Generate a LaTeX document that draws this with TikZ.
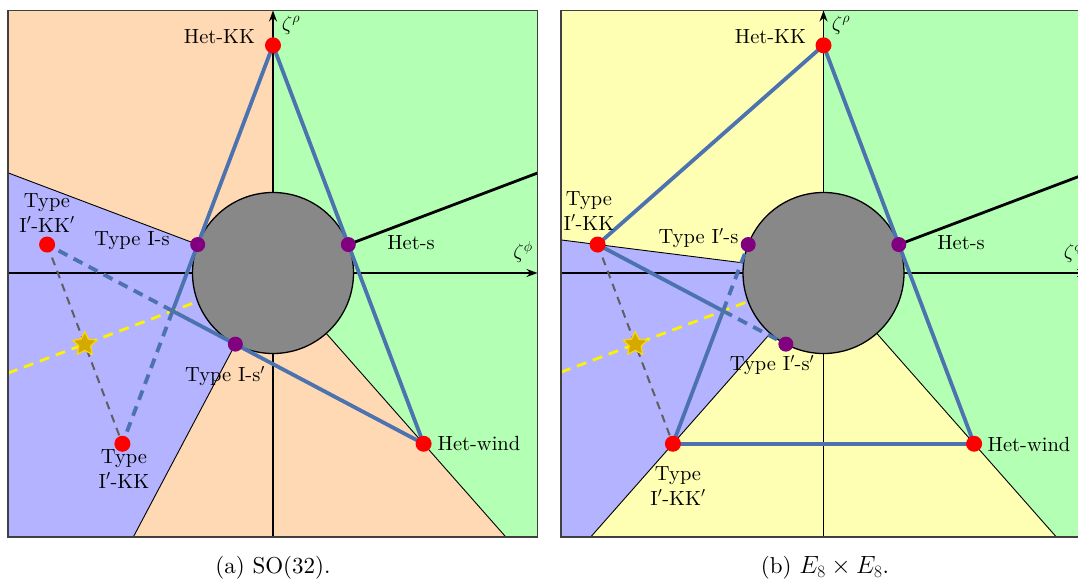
\documentclass[tikz,border=0pt]{standalone}
\usepackage{fontspec}
\setmainfont{lmroman10-regular}[Extension=.otf, BoldFont=lmroman10-bold, ItalicFont=lmroman10-italic, BoldItalicFont=lmroman10-bolditalic]
\usetikzlibrary{arrows.meta,shapes.geometric}
\definecolor{peach}{RGB}{255,217,179}
\definecolor{mint}{RGB}{179,255,179}
\definecolor{lav}{RGB}{179,179,255}
\definecolor{lemon}{RGB}{255,255,179}
\definecolor{hullblue}{RGB}{76,114,176}
\definecolor{ballgray}{RGB}{136,136,136}
\definecolor{dotpurple}{RGB}{128,0,128}
\definecolor{stargold}{RGB}{212,170,0}
\definecolor{staredge}{RGB}{255,215,0}
\definecolor{guidegray}{RGB}{95,95,95}
\tikzset{
  bnd/.style={black, line width=0.9pt},
  axisline/.style={black, line width=1.6pt, -{Stealth[length=11pt,width=8pt]}},
  hsray/.style={black, line width=2.8pt},
  hull/.style={hullblue, line width=3.8pt},
  hulld/.style={hull, dash pattern=on 10pt off 7pt},
  guide/.style={guidegray, line width=2pt, dash pattern=on 8pt off 6pt},
  ydash/.style={yellow, line width=2.8pt, dash pattern=on 10pt off 7pt},
  ball/.style={fill=ballgray, draw=black, line width=1.3pt},
  rdot/.style={circle, fill=red, inner sep=0pt, minimum size=16pt},
  pdot/.style={circle, fill=dotpurple, inner sep=0pt, minimum size=15pt},
  starmark/.style={star, star points=5, star point ratio=2.0, fill=stargold, draw=staredge, line width=1.2pt, inner sep=0pt, minimum size=25pt},
  lab/.style={font=\fontsize{20.5}{24.5}\selectfont, inner sep=0pt, align=center},
  captext/.style={font=\fontsize{23}{27}\selectfont, inner sep=0pt},
  panelframe/.style={draw=black!75, line width=1.2pt},
}
\begin{document}
\begin{tikzpicture}[x=1pt,y=-1pt]
\useasboundingbox (0,0) rectangle (1078,580);
\clip (0,0) rectangle (1078,580);

% ---------------- panel (a) ----------------
\begin{scope}[shift={(273,273)},x=80.5pt,y=80.5pt]
  \def\L{-3.292}\def\R{3.286}\def\T{3.261}\def\B{-3.28}
  \coordinate (a-O) at (0,0);
  \coordinate (a-hkk) at (0,2.82843);
  \coordinate (a-hs) at (0.93541,0.35355);
  \coordinate (a-hw) at (1.87083,-2.12132);
  \coordinate (a-is) at (-0.93541,0.35355);
  \coordinate (a-isp) at (-0.46771,-0.88388);
  \coordinate (a-pa) at (-2.80624,0.35355);
  \coordinate (a-pb) at (-1.87083,-2.12132);
  \coordinate (a-S) at (-2.33854,-0.88388);
  \coordinate (a-X) at (intersection of a-hkk--a-pb and a-hw--a-pa);
  \coordinate (a-yl) at (\L,-1.2443);
  \coordinate (a-yr) at (-0.8419,-0.3182);
  \coordinate (a-xl) at (\L,0);
  \coordinate (a-xr) at (\R,0);
  \coordinate (a-yb) at (0,\B);
  \coordinate (a-yt) at (0,\T);
  \coordinate (a-b1) at (\L,1.2442);
  \coordinate (a-b2) at (-1.7356,\B);
  \coordinate (a-b3) at (2.8927,\B);
  \coordinate (a-hse) at (\R,1.2420);
  \fill[peach] (\L,\B) rectangle (\R,\T);
  \fill[mint] (a-yt) -- (\R,\T) -- (\R,\B) -- (a-b3) -- (a-O) -- cycle;
  \fill[lav] (a-b1) -- (a-O) -- (a-b2) -- (\L,\B) -- cycle;
  \draw[bnd] (a-b1) -- (a-O) -- (a-b2);
  \draw[bnd] (a-O) -- (a-b3);
  \draw[axisline] (a-yb) -- (a-yt);
  \draw[axisline] (a-xl) -- (a-xr);
  \draw[hsray] (a-hs) -- (a-hse);
  \draw[guide] (a-pa) -- (a-pb);
  \draw[ydash] (a-yl) -- (a-yr);
  \draw[ball] (a-O) circle (1);
  \draw[hull] (a-hkk) -- (a-X);
  \draw[hull] (a-hkk) -- (a-hw);
  \draw[hull] (a-hw) -- (a-X);
  \draw[hulld] (a-X) -- (a-pb);
  \draw[hulld] (a-X) -- (a-pa);
  \node[starmark] (a-star) at (a-S) {};
  \node[rdot] (a-nhkk) at (a-hkk) {};
  \node[rdot] (a-nhw) at (a-hw) {};
  \node[rdot] (a-npa) at (a-pa) {};
  \node[rdot] (a-npb) at (a-pb) {};
  \node[pdot] (a-nhs) at (a-hs) {};
  \node[pdot] (a-nis) at (a-is) {};
  \node[pdot] (a-nisp) at (a-isp) {};
  \draw[panelframe] (\L,\B) rectangle (\R,\T);
\end{scope}

% ---------------- panel (b) ----------------
\begin{scope}[shift={(823.5,273)},x=80.5pt,y=80.5pt]
  \def\L{-3.261}\def\R{3.286}\def\T{3.261}\def\B{-3.28}
  \coordinate (b-O) at (0,0);
  \coordinate (b-hkk) at (0,2.82843);
  \coordinate (b-hs) at (0.93541,0.35355);
  \coordinate (b-hw) at (1.87083,-2.12132);
  \coordinate (b-is) at (-0.93541,0.35355);
  \coordinate (b-isp) at (-0.46771,-0.88388);
  \coordinate (b-pa) at (-2.80624,0.35355);
  \coordinate (b-pb) at (-1.87083,-2.12132);
  \coordinate (b-S) at (-2.33854,-0.88388);
  \coordinate (b-X) at (intersection of b-hkk--b-pb and b-hw--b-pa);
  \coordinate (b-yl) at (\L,-1.2326);
  \coordinate (b-yr) at (-0.8419,-0.3182);
  \coordinate (b-xl) at (\L,0);
  \coordinate (b-xr) at (\R,0);
  \coordinate (b-yb) at (0,\B);
  \coordinate (b-yt) at (0,\T);
  \coordinate (b-b1) at (\L,0.4108);
  \coordinate (b-b2) at (-2.8927,\B);
  \coordinate (b-b3) at (2.8927,\B);
  \coordinate (b-hse) at (\R,1.2420);
  \fill[lemon] (\L,\B) rectangle (\R,\T);
  \fill[mint] (b-yt) -- (\R,\T) -- (\R,\B) -- (b-b3) -- (b-O) -- cycle;
  \fill[lav] (b-b1) -- (b-O) -- (b-b2) -- (\L,\B) -- cycle;
  \draw[bnd] (b-b1) -- (b-O) -- (b-b2);
  \draw[bnd] (b-O) -- (b-b3);
  \draw[axisline] (b-yb) -- (b-yt);
  \draw[axisline] (b-xl) -- (b-xr);
  \draw[hsray] (b-hs) -- (b-hse);
  \draw[guide] (b-pa) -- (b-pb);
  \draw[ydash] (b-yl) -- (b-yr);
  \draw[ball] (b-O) circle (1);
  \draw[hull] (b-hkk) -- (b-pa);
  \draw[hull] (b-hkk) -- (b-hw);
  \draw[hull] (b-hw) -- (b-pb);
  \draw[hull] (b-pb) -- (b-X);
  \draw[hull] (b-pa) -- (b-X);
  \draw[hulld] (b-X) -- (b-is);
  \draw[hulld] (b-X) -- (b-isp);
  \node[starmark] (b-star) at (b-S) {};
  \node[rdot] (b-nhkk) at (b-hkk) {};
  \node[rdot] (b-nhw) at (b-hw) {};
  \node[rdot] (b-npa) at (b-pa) {};
  \node[rdot] (b-npb) at (b-pb) {};
  \node[pdot] (b-nhs) at (b-hs) {};
  \node[pdot] (b-nis) at (b-is) {};
  \node[pdot] (b-nisp) at (b-isp) {};
  \draw[panelframe] (\L,\B) rectangle (\R,\T);
\end{scope}

% ---------------- labels (a) ----------------
\node[lab] (a-lhkk) at (219.5,37) {Het-KK};
\node[lab] (a-lhs) at (411,243) {Het-s};
\node[lab] (a-lis) at (132,241) {Type I-s};
\node[lab] (a-lpa) at (47,213) {Type\\I$'$-KK$'$};
\node[lab] (a-lisp) at (225,376) {Type I-s$'$};
\node[lab] (a-lhw) at (479,443) {Het-wind};
\node[lab] (a-lpb) at (124,469) {Type\\I$'$-KK};
\node[lab] (a-zr) at (291,25) {$\zeta^\rho$};
\node[lab] (a-zp) at (523,252) {$\zeta^\phi$};
\node[captext] (a-cap) at (273,568) {(a) SO(32).};

% ---------------- labels (b) ----------------
\node[lab] (b-lhkk) at (770.5,37) {Het-KK};
\node[lab] (b-lhs) at (961,243) {Het-s};
\node[lab] (b-lpa) at (589,211) {Type\\I$'$-KK};
\node[lab] (b-lis) at (698.5,238) {Type I$'$-s};
\node[lab] (b-lisp) at (772,365) {Type I$'$-s$'$};
\node[lab] (b-lhw) at (1029,444) {Het-wind};
\node[lab] (b-lpb) at (678,486) {Type\\I$'$-KK$'$};
\node[lab] (b-zr) at (841,25) {$\zeta^\rho$};
\node[lab] (b-zp) at (1073.5,252) {$\zeta^\phi$};
\node[captext] (b-cap) at (825,568) {(b) $E_8\times E_8$.};
\end{tikzpicture}
\end{document}
